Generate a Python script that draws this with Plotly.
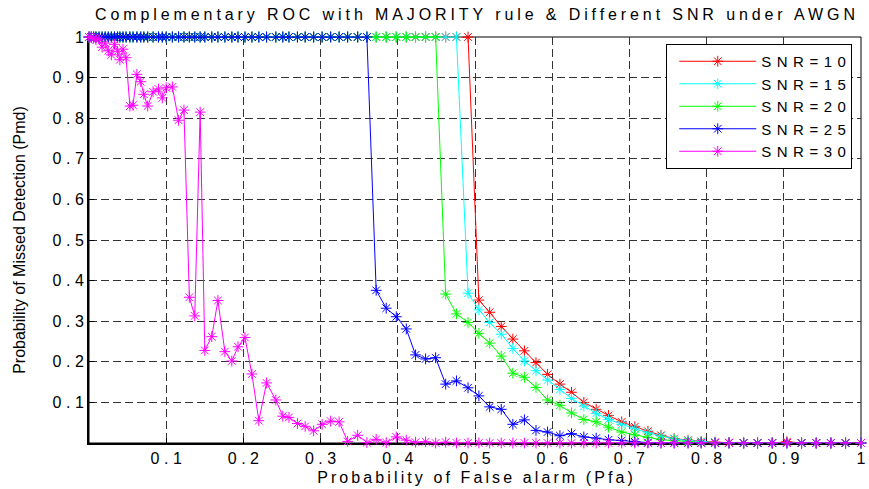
import plotly.graph_objects as go

# ---------------- data ----------------
PFA = [0.000, 0.003, 0.006, 0.009, 0.013, 0.017, 0.021, 0.025, 0.029, 0.033,
       0.037, 0.040, 0.044, 0.048, 0.053, 0.057, 0.062, 0.067, 0.071, 0.076,
       0.083, 0.090, 0.095, 0.100, 0.108, 0.116, 0.123, 0.130, 0.137, 0.144,
       0.150, 0.159, 0.167, 0.176, 0.185, 0.193, 0.202, 0.211, 0.220, 0.230,
       0.242, 0.251, 0.259, 0.270, 0.280, 0.291, 0.302, 0.313, 0.324, 0.335,
       0.348, 0.360, 0.372, 0.385, 0.398, 0.411, 0.423, 0.436, 0.449, 0.462,
       0.476, 0.491, 0.505, 0.519, 0.534, 0.549, 0.564, 0.579, 0.594, 0.610,
       0.625, 0.641, 0.657, 0.673, 0.690, 0.707, 0.724, 0.741, 0.758, 0.776,
       0.793, 0.811, 0.829, 0.848, 0.866, 0.885, 0.904, 0.923, 0.942, 0.961,
       0.980, 1.000]

PMD_SNR10 = [1, 1, 1, 1, 1, 1, 1, 1, 1, 1,
             1, 1, 1, 1, 1, 1, 1, 1, 1, 1,
             1, 1, 1, 1, 1, 1, 1, 1, 1, 1,
             1, 1, 1, 1, 1, 1, 1, 1, 1, 1,
             1, 1, 1, 1, 1, 1, 1, 1, 1, 1,
             1, 1, 1, 1, 1, 1, 1, 1, 1, 1,
             1, 1,
             0.352, 0.322, 0.287, 0.256, 0.227, 0.198, 0.169, 0.145, 0.125, 0.100,
             0.083, 0.068, 0.052, 0.040, 0.029, 0.019, 0.011, 0.007, 0.004, 0.002,
             0.001, 0, 0, 0, 0.003, 0, 0, 0, 0, 0]

PMD_SNR15 = [1, 1, 1, 1, 1, 1, 1, 1, 1, 1,
             1, 1, 1, 1, 1, 1, 1, 1, 1, 1,
             1, 1, 1, 1, 1, 1, 1, 1, 1, 1,
             1, 1, 1, 1, 1, 1, 1, 1, 1, 1,
             1, 1, 1, 1, 1, 1, 1, 1, 1, 1,
             1, 1, 1, 1, 1, 1, 1, 1, 1, 1,
             1,
             0.369, 0.328, 0.297, 0.268, 0.233, 0.202, 0.178, 0.155, 0.132, 0.110,
             0.091, 0.073, 0.058, 0.046, 0.035, 0.025, 0.017, 0.010, 0.006, 0.003,
             0.001, 0, 0, 0, 0, 0, 0, 0, 0, 0, 0]

PMD_SNR20 = [1, 1, 1, 1, 1, 1, 1, 1, 1, 1,
             1, 1, 1, 1, 1, 1, 1, 1, 1, 1,
             1, 1, 1, 1, 1, 1, 1, 1, 1, 1,
             1, 1, 1, 1, 1, 1, 1, 1, 1, 1,
             1, 1, 1, 1, 1, 1, 1, 1, 1, 1,
             1, 1, 1, 1, 1, 1, 1, 1, 1,
             0.367, 0.318, 0.297, 0.270, 0.246, 0.214, 0.172, 0.162, 0.137, 0.106,
             0.093, 0.074, 0.058, 0.052, 0.039, 0.027, 0.020, 0.014, 0.008, 0.006,
             0.003, 0.001, 0, 0, 0, 0, 0, 0, 0, 0, 0, 0, 0]

PMD_SNR25 = [1, 1, 1, 1, 1, 1, 1, 1, 1, 1,
             1, 1, 1, 1, 1, 1, 1, 1, 1, 1,
             1, 1, 1, 1, 1, 1, 1, 1, 1, 1,
             1, 1, 1, 1, 1, 1, 1, 1, 1, 1,
             1, 1, 1, 1, 1, 1, 1, 1, 1, 1,
             1, 1,
             0.376, 0.332, 0.311, 0.281, 0.217, 0.207, 0.210, 0.145, 0.153, 0.136,
             0.116, 0.089, 0.083, 0.046, 0.057, 0.031, 0.027, 0.018, 0.023, 0.015,
             0.012, 0.008, 0.006, 0.003, 0.001,
             0, 0, 0, 0, 0, 0, 0, 0, 0, 0, 0, 0, 0, 0, 0]

PMD_SNR30 = [1.000, 1.000, 0.997, 0.993, 0.995, 0.975, 0.985, 0.966, 0.956, 0.982,
             0.965, 0.944, 0.970, 0.949, 0.830, 0.832, 0.908, 0.890, 0.859, 0.830,
             0.865, 0.872, 0.850, 0.875, 0.877, 0.795, 0.820, 0.359, 0.313, 0.815,
             0.228, 0.262, 0.351, 0.225, 0.202, 0.237, 0.260, 0.170, 0.055, 0.148,
             0.106, 0.066, 0.063, 0.048, 0.041, 0.030, 0.046, 0.054, 0.052, 0.004,
             0.019, 0.001, 0.009, 0.001, 0.015, 0.007, 0.002, 0.003, 0, 0.002,
             0, 0, 0, 0, 0, 0, 0, 0, 0, 0,
             0, 0, 0, 0, 0, 0, 0, 0, 0, 0,
             0, 0, 0, 0, 0, 0, 0, 0, 0, 0,
             0, 0]

SERIES_NAMES = ["SNR=10", "SNR=15", "SNR=20", "SNR=25", "SNR=30"]
SERIES_PMD = [PMD_SNR10, PMD_SNR15, PMD_SNR20, PMD_SNR25, PMD_SNR30]
SERIES_COLORS = ["#ff0000", "#00ffff", "#00ff00", "#0000ff", "#ff00ff"]

TICK_VALUES = [0.1, 0.2, 0.3, 0.4, 0.5, 0.6, 0.7, 0.8, 0.9, 1.0]
TICK_LABELS = ["0.1", "0.2", "0.3", "0.4", "0.5", "0.6", "0.7", "0.8", "0.9", "1"]

TITLE = "Complementary ROC with MAJORITY rule & Different SNR under AWGN"
XLABEL = "Probability of False alarm (Pfa)"
YLABEL = "Probability of Missed Detection (Pmd)"

for p in SERIES_PMD:
    assert len(p) == len(PFA), len(p)

FONT = "Liberation Sans, Arial, Helvetica, sans-serif"


def esc(s):
    return s.replace("&", "&amp;").replace("<", "&lt;").replace(">", "&gt;")


def spaced(text, px):
    """Letter-spaced text without trailing space after the last glyph."""
    if len(text) <= 1:
        return esc(text)
    return '<span style="letter-spacing:%spx">%s</span>%s' % (
        px, esc(text[:-1]), esc(text[-1]))


fig = go.Figure()
for name, pmd, col in zip(SERIES_NAMES, SERIES_PMD, SERIES_COLORS):
    fig.add_trace(go.Scatter(
        x=PFA, y=pmd, mode="lines+markers", name=spaced(name, 5.5),
        line=dict(color=col, width=1),
        marker=dict(symbol="asterisk-open", size=9, color=col,
                    line=dict(color=col, width=1)),
        cliponaxis=False,
    ))

axis_common = dict(
    range=[0, 1], showgrid=True, gridcolor="#333333", gridwidth=1,
    griddash="8px,4px", zeroline=False, showline=True, linecolor="black",
    linewidth=2, ticks="inside", ticklen=5, tickcolor="black",
    tickvals=TICK_VALUES, layer="below traces", ticklabeloverflow="allow",
    tickfont=dict(family=FONT, size=16, color="black"),
)

fig.update_layout(
    width=869, height=489, autosize=False,
    margin=dict(l=89, r=3, t=37, b=46, pad=0),
    paper_bgcolor="white", plot_bgcolor="white",
    font=dict(family=FONT, size=16, color="black"),
    title=dict(text=spaced(TITLE, 3.9), x=0.5, xref="paper", xanchor="center",
               y=1 - 14 / 489, yref="container", yanchor="middle",
               font=dict(family=FONT, size=16, color="black")),
    xaxis=dict(axis_common, ticktext=[spaced(t, 4.5) for t in TICK_LABELS],
               title=dict(text=spaced(XLABEL, 3.1), standoff=6,
                          font=dict(family=FONT, size=16, color="black"))),
    yaxis=dict(axis_common, ticktext=[spaced(t, 4.5) for t in TICK_LABELS],
               title=dict(text=YLABEL, standoff=23,
                          font=dict(family=FONT, size=16, color="black"))),
    legend=dict(x=(670 - 89) / 777, y=(443 - 44) / 406, xanchor="left",
                yanchor="top", bgcolor="white", bordercolor="black",
                borderwidth=1, itemwidth=77, indentation=7,
                font=dict(family=FONT, size=15, color="black")),
    showlegend=True,
)

fig.add_shape(type="rect", xref="paper", yref="paper", x0=0, x1=1, y0=0, y1=1,
              line=dict(color="black", width=1), layer="below")

fig.write_html("out.html")
